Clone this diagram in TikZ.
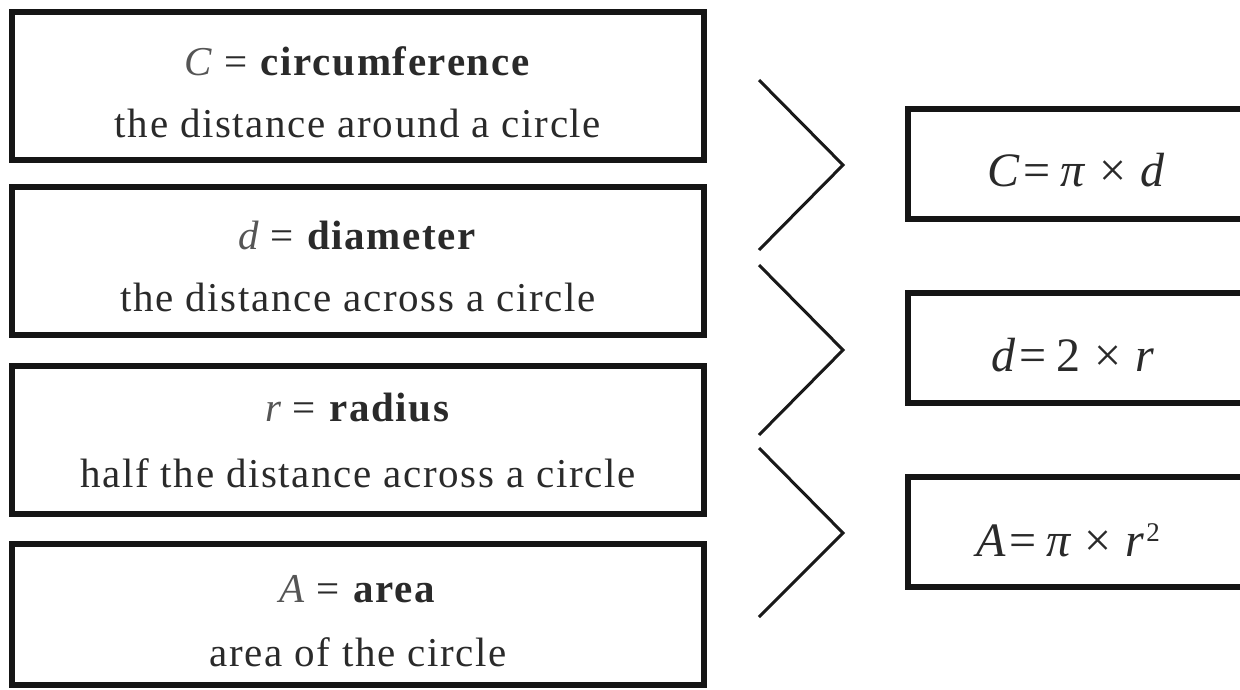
\documentclass[tikz,border=0pt]{standalone}
\usepackage{fontspec}
\setmainfont{Liberation Serif}
\newfontfamily\bodyfont[LetterSpace=4]{Liberation Serif}
\definecolor{txt}{HTML}{2A2A2A}
\definecolor{vart}{HTML}{555555}
\definecolor{edge}{HTML}{151515}
\begin{document}
\begin{tikzpicture}[x=1pt,y=-1pt,
  lbox/.style={draw=edge, line width=6pt, minimum width=692pt, minimum height=148pt, inner sep=0pt},
  rbox/.style={draw=edge, line width=6pt, minimum width=352pt, minimum height=110pt, inner sep=0pt},
  ltext/.style={anchor=base, inner sep=0pt, text=txt, font=\bodyfont\fontsize{41}{45}\selectfont},
  rtext/.style={anchor=base, inner sep=0pt, text=txt, font=\fontsize{48}{52}\selectfont},
  chev/.style={draw=black!90, line width=3pt, line join=miter}]
\clip (0,0) rectangle (1240,689);
\fill[white] (0,0) rectangle (1240,689);
% left boxes
\node[lbox] (b1) at (358,86) {};
\node[lbox] (b2) at (358,261) {};
\node[lbox] (b3) at (358,440) {};
\node[lbox, minimum height=141pt] (b4) at (358,614.5) {};
\node[ltext] (t1a) at (358,75) {{\color{vart}\itshape C} = \textbf{circumference}};
\node[ltext] (t1b) at (358,137) {the distance around a circle};
\node[ltext] (t2a) at (358,249) {{\color{vart}\itshape d} = \textbf{diameter}};
\node[ltext] (t2b) at (358,311) {the distance across a circle};
\node[ltext] (t3a) at (358,421) {{\color{vart}\itshape r} = \textbf{radius}};
\node[ltext] (t3b) at (358,487) {half the distance across a circle};
\node[ltext] (t4a) at (358,602) {{\color{vart}\itshape A} = \textbf{area}};
\node[ltext] (t4b) at (358,666) {area of the circle};
% chevrons
\coordinate (c1a) at (759,80); \coordinate (c1t) at (843,165); \coordinate (c1b) at (759,250);
\coordinate (c2a) at (759,265); \coordinate (c2t) at (843,350); \coordinate (c2b) at (759,435);
\coordinate (c3a) at (759,448); \coordinate (c3t) at (843,533); \coordinate (c3b) at (759,617);
\draw[chev] (c1a) -- (c1t) -- (c1b);
\draw[chev] (c2a) -- (c2t) -- (c2b);
\draw[chev] (c3a) -- (c3t) -- (c3b);
% right boxes
\node[rbox] (r1) at (1084,164) {};
\node[rbox] (r2) at (1084,348) {};
\node[rbox] (r3) at (1084,532) {};
\node[rtext] (f1) at (1076,186) {{\itshape C}\kern4pt=\kern10pt{\itshape π}\kern14pt×\kern14pt{\itshape d}};
\node[rtext] (f2) at (1073,371) {{\itshape d}\kern4pt=\kern10pt2\kern14pt×\kern14pt{\itshape r}};
\node[rtext] (f3) at (1068,556) {{\itshape A}\kern4pt=\kern10pt{\itshape π}\kern14pt×\kern14pt{\itshape r}\kern2pt\raisebox{15pt}{\fontsize{27}{29}\selectfont 2}};
\end{tikzpicture}
\end{document}
